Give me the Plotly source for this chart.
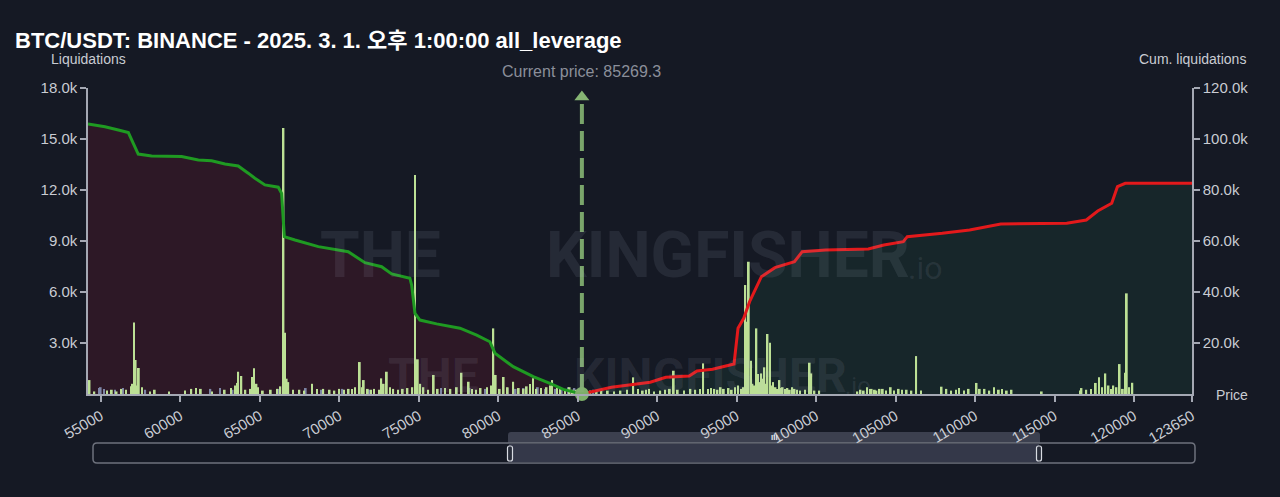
import plotly.graph_objects as go

# ---------------- DATA ----------------
title_text = "BTC/USDT: BINANCE - 2025. 3. 1. 오후 1:00:00 all_leverage"
current_price = 85269.3
x_min, x_max = 54200, 123650

x_tickvals = [55000, 60000, 65000, 70000, 75000, 80000, 85000, 90000, 95000,
              100000, 105000, 110000, 115000, 120000, 123650]
x_ticktext = [str(v) for v in x_tickvals]

liq_tickvals = [3000, 6000, 9000, 12000, 15000, 18000]
liq_ticktext = ["3.0k", "6.0k", "9.0k", "12.0k", "15.0k", "18.0k"]
cum_tickvals = [20000, 40000, 60000, 80000, 100000, 120000]
cum_ticktext = ["20.0k", "40.0k", "60.0k", "80.0k", "100.0k", "120.0k"]

# cumulative liquidations below current price (left, decreasing toward price)
left_cum_price = [54200, 55270, 56110, 56740, 57050, 57360, 58200, 60090, 61140, 61980,
                  62820, 63650, 64280, 64700, 65330, 66170, 66380, 66550, 67220, 68690,
                  70570, 71620, 72670, 73300, 74450, 74560, 74770, 75080, 76130, 77600,
                  78650, 79480, 79800, 80950, 82210, 83260, 84100, 84940, 85269.3]
left_cum_val = [105900, 104800, 103500, 102500, 98300, 94100, 93300, 93100, 91800, 91500,
                90200, 89400, 86600, 84600, 82000, 81100, 78700, 61700, 60400, 57800,
                55800, 51500, 49900, 47100, 45400, 42700, 31600, 29000, 27500, 25800,
                23100, 20500, 16000, 10700, 6800, 4200, 1800, 500, 0]

# cumulative liquidations above current price (right, increasing)
right_cum_price = [85269.3, 87130, 89570, 90550, 92020, 92510, 93490, 94840, 95090, 95450,
                   95820, 96560, 97410, 98640, 99130, 100600, 103290, 104270, 105490, 105740,
                   107940, 109660, 111620, 115770, 117000, 117720, 118600, 118960, 119450, 123650]
right_cum_val = [0, 2630, 4590, 6550, 7060, 9020, 9690, 11770, 25770, 29690,
                 36200, 46000, 49540, 51890, 55810, 56480, 56870, 58440, 59730, 61690,
                 63030, 64320, 66670, 66950, 68240, 71770, 74790, 81300, 82640, 82640]

# per-price liquidation bars (light green series)
green_price = [54300, 54600, 55400, 55700, 56000, 56300, 56600, 56900, 57000, 57100,
               57200, 57300, 57400, 57600, 58100, 58400, 59300, 60300, 60700, 61000,
               61300, 62000, 62800, 63200, 63500, 63600, 63650, 63850, 64100, 64400,
               64550, 64650, 64800, 64900, 65200, 65700, 66100, 66300, 66500, 66600,
               66700, 66800, 67100, 67500, 67800, 68300, 68600, 69000, 69400, 69700,
               70000, 70300, 70600, 70800, 71000, 71300, 71450, 71550, 71800, 72000,
               72200, 72500, 72650, 72800, 73000, 73200, 73400, 73700, 74000, 74300,
               74600, 74770, 74850, 74950, 75100, 75300, 75600, 75950, 76200, 76650,
               77000, 77700, 77400, 78150, 78350, 78600, 78900, 79300, 79550, 79700,
               79850, 80100, 80350, 80600, 80950, 81300, 81600, 81800, 82000, 82200,
               82400, 82700, 83050, 83300, 83400, 83700, 83900, 84200, 84500, 84700,
               84900,
               85500, 85800, 86200, 86500, 86900, 87300, 87700, 88100, 88500, 88800,
               89100, 89300, 89500, 89800, 90200, 90500, 90800, 91050, 91300, 91700,
               92100, 92400, 92700, 92900, 93200, 93400, 93600, 93800, 94000, 94200,
               94500, 94700, 94900, 95100, 95300, 95450, 95550, 95650, 95770, 95900,
               96000, 96100, 96250, 96350, 96450, 96550, 96650, 96750, 96850, 96950,
               97100, 97200, 97300, 97450, 97550, 97700, 97800, 97900, 98050, 98200,
               98350, 98500, 98650, 98800, 99000, 99300, 99600, 99700, 99900, 100200,
               102600, 102800, 103000, 103200, 103400, 103500, 103700, 103800, 104000, 104200,
               104400, 104700, 104900, 105200, 105400, 105700, 106000, 106300, 106600, 107900,
               108200, 108500, 108800, 109000, 109300, 109600, 110100, 110300, 110600, 110900,
               111200, 111500, 111700, 112000, 112300, 114200, 116600, 116700, 117000, 117300,
               117600, 117800, 118000, 118200, 118400, 118550, 118700, 118900, 119100, 119300,
               119450, 119550, 119700, 119900]
green_val = [820, 150, 200, 250, 150, 300, 250, 450, 600, 4200,
             2000, 500, 1530, 400, 150, 250, 150, 200, 300, 350,
             300, 150, 250, 350, 500, 650, 1310, 1060, 250, 300,
             1000, 1510, 600, 400, 200, 250, 300, 450, 15640, 3600,
             900, 700, 250, 250, 200, 600, 300, 300, 250, 200,
             300, 250, 300, 300, 400, 1880, 400, 820, 300, 250,
             300, 250, 920, 600, 1310, 400, 300, 250, 300, 350,
             400, 12880, 1700, 2040, 600, 400, 250, 1120, 300, 350,
             300, 1250, 400, 720, 300, 250, 350, 400, 500, 3860,
             1120, 300, 1000, 400, 720, 350, 300, 450, 590, 920,
             300, 350, 400, 500, 820, 350, 300, 300, 400, 250,
             250,
             150, 200, 150, 250, 200, 150, 200, 250, 980, 300,
             200, 250, 300, 150, 200, 250, 300, 1370, 250, 200,
             300, 250, 300, 1800, 300, 350, 300, 250, 400, 300,
             350, 250, 400, 500, 300, 400, 6410, 4250, 7780, 1960,
             600, 500, 3860, 1180, 700, 1210, 900, 1570, 600, 3530,
             3020, 500, 700, 400, 300, 820, 350, 400, 300, 350,
             250, 400, 300, 250, 200, 250, 1840, 1210, 200, 200,
             150, 250, 200, 400, 300, 300, 250, 200, 300, 300,
             200, 400, 200, 300, 250, 250, 200, 2230, 200, 430,
             300, 200, 250, 350, 200, 300, 650, 300, 300, 200,
             400, 250, 300, 200, 250, 150, 200, 350, 250, 300,
             650, 980, 400, 1210, 500, 300, 500, 400, 1760, 300,
             1250, 5920, 400, 660]

# second bar series (lavender)
lav_price = [54900, 55000, 55200, 55900, 56400, 57800, 61900, 62500, 63300, 66200,
             67900, 68900, 70200, 71900, 72700, 76400, 78200, 79200, 80600, 81100,
             81600, 82500, 83000, 83600, 84000, 84400, 84800, 85500, 86000]
lav_val = [350, 400, 300, 250, 350, 250, 300, 350, 250, 300,
           350, 250, 300, 250, 200, 350, 350, 300, 350, 300,
           350, 400, 300, 300, 250, 400, 350, 200, 250]

# ---------------- STYLE ----------------
BG = "#151924"
AXIS = "#a4a8b3"
TXT = "#c9ccd3"
FONT = "Liberation Sans, Arial, Noto Sans CJK KR, sans-serif"

L, R, T, B = 88, 1192, 88, 394
W, H = 1280, 497


def px(xp):
    return (xp - L) / (R - L)


def py(yp):
    return (B - yp) / (B - T)


def rrect(x0, y0, x1, y1, r):
    pts = [("M", x0 + r, y0), ("L", x1 - r, y0), ("Q", x1, y0, x1, y0 + r),
           ("L", x1, y1 - r), ("Q", x1, y1, x1 - r, y1), ("L", x0 + r, y1),
           ("Q", x0, y1, x0, y1 - r), ("L", x0, y0 + r), ("Q", x0, y0, x0 + r, y0)]
    s = ""
    for p in pts:
        if p[0] == "Q":
            s += f"Q{px(p[1]):.5f},{py(p[2]):.5f} {px(p[3]):.5f},{py(p[4]):.5f} "
        else:
            s += f"{p[0]}{px(p[1]):.5f},{py(p[2]):.5f} "
    return s + "Z"


fig = go.Figure()

# fills (primary y: cumulative, right side)
fig.add_trace(go.Scatter(x=left_cum_price, y=left_cum_val, mode="lines", line=dict(width=0),
                         fill="tozeroy", fillcolor="#2d1826", hoverinfo="skip", yaxis="y"))
fig.add_trace(go.Scatter(x=right_cum_price, y=right_cum_val, mode="lines", line=dict(width=0),
                         fill="tozeroy", fillcolor="#17262a", hoverinfo="skip", yaxis="y"))

# bars (y2: liquidations, left side)
fig.add_trace(go.Bar(x=lav_price, y=lav_val, width=110, marker=dict(color="#7e86a6", line_width=0),
                     yaxis="y2"))
fig.add_trace(go.Bar(x=green_price, y=green_val, width=110, marker=dict(color="#bce095", line_width=0),
                     yaxis="y2"))

# cumulative lines (y3, same scale as y)
fig.add_trace(go.Scatter(x=left_cum_price, y=left_cum_val, mode="lines",
                         line=dict(color="#1f9a22", width=3), yaxis="y3"))
fig.add_trace(go.Scatter(x=right_cum_price, y=right_cum_val, mode="lines",
                         line=dict(color="#e3191b", width=3), yaxis="y3"))

# current price line + markers
fig.add_trace(go.Scatter(x=[current_price, current_price], y=[0, 114000], mode="lines",
                         line=dict(color="rgba(140,190,120,0.85)", width=4, dash="20px,7px"),
                         yaxis="y3"))
fig.add_trace(go.Scatter(x=[current_price], y=[116500], mode="markers",
                         marker=dict(symbol="triangle-up", size=13, color="rgba(140,190,120,0.95)"),
                         yaxis="y3", cliponaxis=False))
fig.add_trace(go.Scatter(x=[current_price], y=[0], mode="markers",
                         marker=dict(symbol="circle", size=14, color="#7daf69"),
                         yaxis="y3", cliponaxis=False))

fig.update_layout(
    width=W, height=H,
    paper_bgcolor=BG, plot_bgcolor=BG,
    showlegend=False, barmode="overlay",
    margin=dict(l=L, r=W - R, t=T, b=H - B, autoexpand=False),
    font=dict(family=FONT, color=TXT, size=14),
    title=dict(text="<b>" + title_text + "</b>", x=15 / W, xanchor="left",
               y=1 - 40 / H, yanchor="middle", font=dict(size=22, color="#ffffff", family=FONT)),
    xaxis=dict(range=[x_min, x_max], tickvals=x_tickvals, ticktext=x_ticktext, tickangle=-30,
               showgrid=False, zeroline=False, showline=True, linecolor=AXIS, linewidth=1.5,
               ticks="outside", ticklen=6, tickcolor=AXIS, tickwidth=1.5,
               tickfont=dict(size=15, color=TXT)),
    yaxis=dict(range=[0, 120000], tickvals=cum_tickvals, ticktext=cum_ticktext, side="right",
               showgrid=False, zeroline=False, showline=True, linecolor=AXIS, linewidth=1.5,
               ticks="outside", ticklen=6, tickcolor=AXIS, tickwidth=1.5,
               tickfont=dict(size=15, color=TXT)),
    yaxis2=dict(range=[0, 18000], tickvals=liq_tickvals, ticktext=liq_ticktext, side="left",
                overlaying="y", showgrid=False, zeroline=False, showline=True, linecolor=AXIS,
                linewidth=1.5, ticks="outside", ticklen=6, tickcolor=AXIS, tickwidth=1.5,
                tickfont=dict(size=15, color=TXT)),
    yaxis3=dict(range=[0, 120000], overlaying="y", visible=False),
)


def note(text, xp, yp, size, color=TXT, family=FONT, xanchor="center"):
    return dict(text=text, x=px(xp), y=py(yp), xref="paper", yref="paper", xanchor=xanchor,
                yanchor="middle", showarrow=False, font=dict(size=size, color=color, family=family))


ann = []
ann.append(note("Liquidations", 88, 59, 14))
ann.append(note("Cum. liquidations", 1192, 59, 14))
ann.append(note("Price", 1214, 395, 14, xanchor="left"))
ann.append(dict(text="Current price: " + str(current_price), x=current_price, xref="x",
                y=py(72), yref="paper", yanchor="middle", showarrow=False,
                font=dict(size=16, color="#8b8f9a")))

# watermark
wm = "rgba(190,195,215,0.10)"
WMF = "Roboto, Liberation Sans, sans-serif"
ann.append(note("<b>THE</b>", 380, 255, 64, wm, WMF))
ann.append(note("<b>KINGFISHER</b>", 728, 255, 64, wm, WMF))
ann.append(note(".io", 925, 268, 32, wm, WMF))
ann.append(note("<b>THE</b>", 433, 375, 48, wm, WMF))
ann.append(note("<b>KINGFISHER</b>", 710, 375, 48, wm, WMF))
ann.append(note(".io", 858, 386, 24, wm, WMF))

# scrollbar grip
ann.append(note("<b>III</b>", 774, 437, 8, "#e6e8ee"))
fig.update_layout(annotations=ann)

shapes = []
# tab above selected range
shapes.append(dict(type="path", path=rrect(508, 432, 1040, 446, 3), xref="paper", yref="paper",
                   fillcolor="#3c404f", line=dict(width=0), layer="below"))
# track
shapes.append(dict(type="path", path=rrect(93, 443, 1195, 463, 4), xref="paper", yref="paper",
                   fillcolor=BG, line=dict(color="#6d717c", width=1.5), layer="below"))
# selected window
shapes.append(dict(type="rect", x0=px(509), x1=px(1039), y0=py(443.8), y1=py(462.2),
                   xref="paper", yref="paper", fillcolor="#343849", line=dict(width=0), layer="below"))
# handles
for hx in (510, 1039):
    shapes.append(dict(type="path", path=rrect(hx - 2.5, 446, hx + 2.5, 461, 2), xref="paper",
                       yref="paper", fillcolor="#2a2e3b", line=dict(color="#d8dbe2", width=1.2),
                       layer="below"))
fig.update_layout(shapes=shapes)

fig.write_html("out.html", config={"displayModeBar": False},
               post_script="document.body.style.margin='0';")
